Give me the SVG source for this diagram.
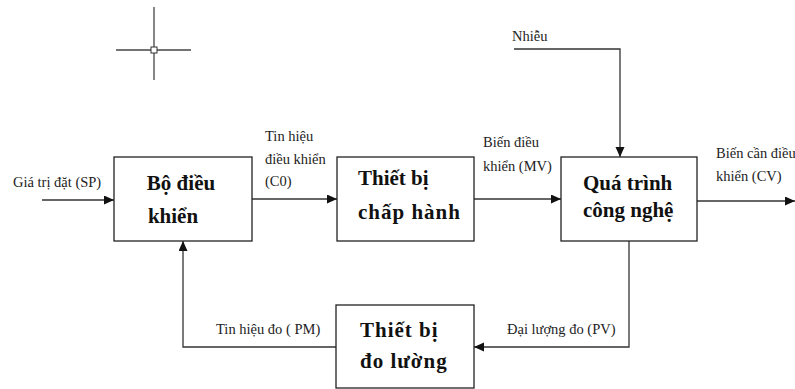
<svg xmlns="http://www.w3.org/2000/svg" width="795" height="389" viewBox="0 0 795 389">
  <style>
    .box { fill: #ffffff; stroke: #222222; stroke-width: 1.3; }
    .title { font-family: "Liberation Serif", "Times New Roman", serif; font-size: 21px; font-weight: bold; fill: #111111; }
    .lbl { font-family: "Liberation Serif", "Times New Roman", serif; font-size: 14.5px; fill: #222222; }
    .wire { fill: none; stroke: #333333; stroke-width: 1.3; }
    .cross { stroke: #444444; stroke-width: 1.3; }
  </style>
  <defs>
    <marker id="arrow" markerUnits="userSpaceOnUse" markerWidth="12" markerHeight="10" refX="10" refY="4.5" orient="auto">
      <path d="M0,0 L10,4.5 L0,9 Z" fill="#111111"/>
    </marker>
  </defs>

  <rect width="795" height="389" fill="#ffffff"/>

  <!-- cursor crosshair -->
  <g id="crosshair">
    <line class="cross" x1="154" y1="7" x2="154" y2="80"/>
    <line class="cross" x1="116" y1="50" x2="191" y2="50"/>
    <rect x="151" y="47" width="6" height="6" fill="#ffffff" stroke="#333333" stroke-width="1"/>
  </g>

  <!-- signal lines -->
  <g id="connectors">
    <path class="wire" d="M42 200 H114" marker-end="url(#arrow)"/>
    <path class="wire" d="M252 199 H337" marker-end="url(#arrow)"/>
    <path class="wire" d="M474 199 H561" marker-end="url(#arrow)"/>
    <path class="wire" d="M697 201 H795" marker-end="url(#arrow)"/>
    <path class="wire" d="M514 49 H620 V157" marker-end="url(#arrow)"/>
    <path class="wire" d="M629 241 V347 H474" marker-end="url(#arrow)"/>
    <path class="wire" d="M336 347 H183 V241" marker-end="url(#arrow)"/>
  </g>

  <!-- signal labels -->
  <g id="labels">
    <text class="lbl" x="13" y="187">Giá trị đặt (SP)</text>
    <text class="lbl" x="265" y="141">Tin hiệu</text>
    <text class="lbl" x="265" y="164">điều khiển</text>
    <text class="lbl" x="265" y="186">(C0)</text>
    <text class="lbl" x="483" y="147">Biến điều</text>
    <text class="lbl" x="483" y="171">khiển (MV)</text>
    <text class="lbl" x="512" y="41">Nhiễu</text>
    <text class="lbl" x="716" y="158">Biến cần điều</text>
    <text class="lbl" x="716" y="181">khiển (CV)</text>
    <text class="lbl" x="216" y="334">Tin hiệu đo ( PM)</text>
    <text class="lbl" x="507" y="334">Đại lượng đo (PV)</text>
  </g>

  <g id="controller">
    <rect class="box" x="114" y="157" width="138" height="84"/>
    <text class="title" x="181" y="190" text-anchor="middle">Bộ điều</text>
    <text class="title" x="173" y="223" text-anchor="middle">khiển</text>
  </g>

  <g id="actuator">
    <rect class="box" x="337" y="157" width="137" height="84"/>
    <text class="title" x="358" y="185">Thiết bị</text>
    <text class="title" x="358" y="219" letter-spacing="1">chấp hành</text>
  </g>

  <g id="process">
    <rect class="box" x="561" y="157" width="136" height="84"/>
    <text class="title" x="583" y="190">Quá trình</text>
    <text class="title" x="583" y="217">công nghệ</text>
  </g>

  <g id="sensor">
    <rect class="box" x="336" y="305" width="138" height="83"/>
    <text class="title" x="360" y="337" letter-spacing="1">Thiết bị</text>
    <text class="title" x="360" y="368" letter-spacing="1">đo lường</text>
  </g>
</svg>
